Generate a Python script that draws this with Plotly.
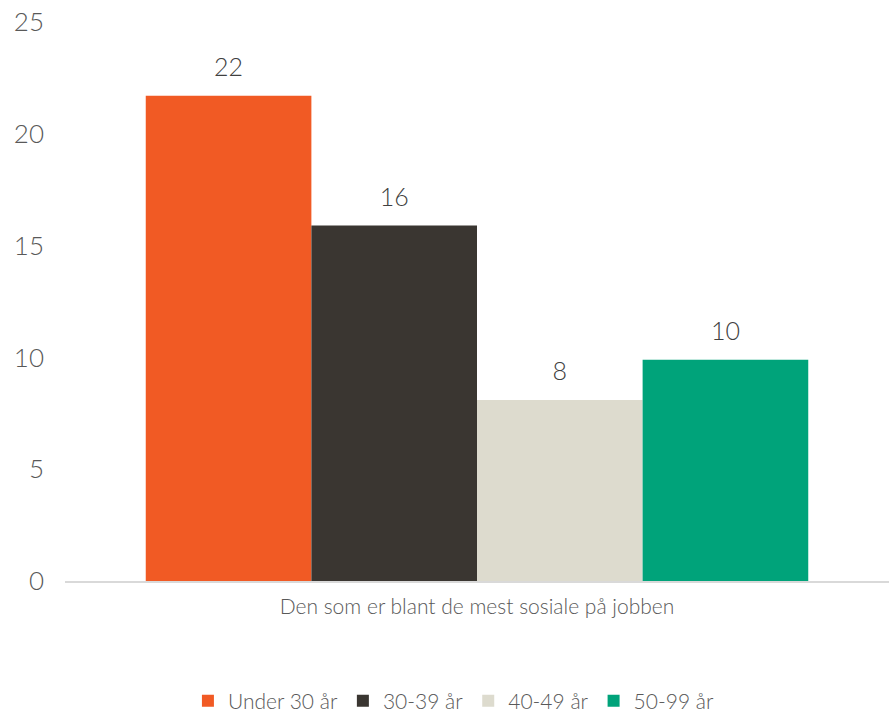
import plotly.graph_objects as go

category = ["Den som er blant de mest sosiale på jobben"]
series_names = ["Under 30 år", "30-39 år", "40-49 år", "50-99 år"]
series_values = [21.7, 15.9, 8.1, 9.9]
colors = ["#F15A24", "#3A3631", "#DDDBCE", "#00A37A"]
y_ticks = [0, 5, 10, 15, 20, 25]

FONT = "Lato"
W = 300

fig = go.Figure()
for name, val, col in zip(series_names, series_values, colors):
    fig.add_trace(go.Bar(
        x=category, y=[val], name=name, offsetgroup=name,
        marker=dict(color=col, line=dict(width=0)),
        hoverinfo="skip",
    ))
for name, val in zip(series_names, series_values):
    fig.add_trace(go.Scatter(
        x=category, y=[val], name=name, offsetgroup=name, showlegend=False,
        mode="markers+text", marker=dict(size=20, opacity=0),
        text=[val], texttemplate="%{y:.0f}", textposition="top center",
        textfont=dict(size=25, color="#404040", family=FONT, weight=W),
        cliponaxis=False, hoverinfo="skip",
    ))

fig.update_layout(
    width=889, height=714,
    margin=dict(l=65, r=0, t=22, b=133, autoexpand=False),
    paper_bgcolor="white", plot_bgcolor="white",
    barmode="group", bargap=0.196, bargroupgap=0,
    scattermode="group", scattergap=0.196,
    font=dict(family=FONT, color="#595959", weight=W),
    showlegend=True,
    legend=dict(orientation="h", x=0.472, xanchor="center", y=-0.215, yanchor="middle",
                font=dict(size=21, color="#595959", family=FONT, weight=W),
                itemwidth=30, traceorder="normal"),
    xaxis=dict(showgrid=False, showline=True, linecolor="#D9D9D9", linewidth=2,
               ticks="", automargin=False, ticklabelstandoff=6,
               tickfont=dict(size=21, color="#595959", family=FONT, weight=W)),
    yaxis=dict(range=[0, 25], tickvals=y_ticks, showgrid=False, showline=False,
               zeroline=False, ticks="", ticklabelstandoff=20, automargin=False,
               tickfont=dict(size=26, color="#595959", family=FONT, weight=W)),
)

fig.write_html("out.html", config={"displayModeBar": False},
               post_script="document.body.style.margin='0';")
